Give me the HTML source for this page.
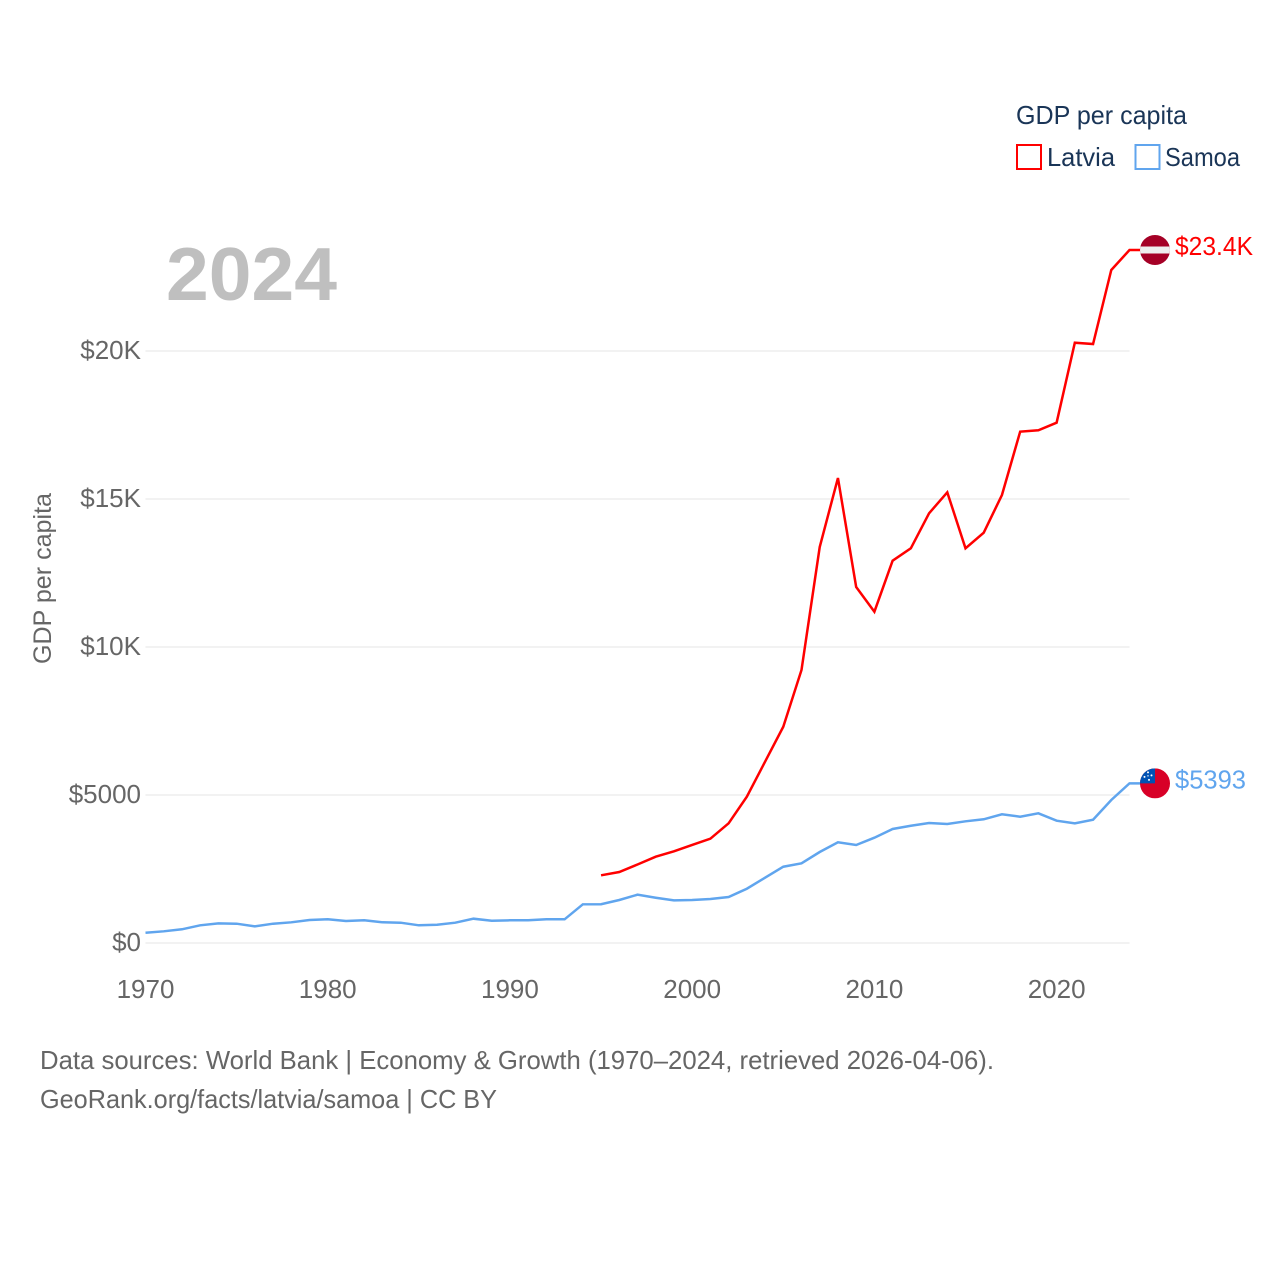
<!DOCTYPE html>
<html lang="en">
<head>
<meta charset="utf-8">
<title>GDP per capita: Latvia and Samoa</title>
<style>
html,body{margin:0;padding:0;background:#fff;}
svg{display:block;font-family:"Liberation Sans",sans-serif;}
</style>
</head>
<body>
<svg id="chart" xmlns="http://www.w3.org/2000/svg" width="1280" height="1280" viewBox="0 0 1280 1280">
  <rect width="1280" height="1280" fill="#fff"/>
  <g id="grid"></g>
  <g id="yticks"></g>
  <g id="xticks"></g>
  <text id="year" x="166" y="300" font-size="75" font-weight="700" fill="#bfbfbf" textLength="171" lengthAdjust="spacingAndGlyphs">2024</text>
  <text transform="translate(51 664) rotate(-90)" font-size="25" fill="#666" textLength="171" lengthAdjust="spacingAndGlyphs">GDP per capita</text>
  <g id="series"></g>

  <g>
    <text x="1016" y="124" font-size="26" fill="#1a3557" textLength="171" lengthAdjust="spacingAndGlyphs">GDP per capita</text>
    <rect x="1017" y="145" width="24" height="24" fill="none" stroke="#ff0000" stroke-width="2"/>
    <text x="1047" y="166" font-size="26" fill="#1a3557" textLength="68" lengthAdjust="spacingAndGlyphs">Latvia</text>
    <rect x="1135.5" y="145" width="24" height="24" fill="none" stroke="#60a5ee" stroke-width="2"/>
    <text x="1165" y="166" font-size="26" fill="#1a3557" textLength="75" lengthAdjust="spacingAndGlyphs">Samoa</text>
  </g>

  <defs>
    <clipPath id="clip-lv"><circle cx="0" cy="0" r="15"/></clipPath>
    <clipPath id="clip-ws"><circle cx="0" cy="0" r="15"/></clipPath>
  </defs>
  <g id="flag-latvia">
    <g clip-path="url(#clip-lv)">
      <rect x="-15" y="-15" width="30" height="30" fill="#a50026"/>
      <rect x="-15" y="-3.5" width="30" height="7" fill="#eeeeee"/>
    </g>
  </g>
  <g id="flag-samoa">
    <g clip-path="url(#clip-ws)">
      <rect x="-15" y="-15" width="30" height="30" fill="#d80027"/>
      <rect x="-15" y="-15" width="15" height="15" fill="#0052b4"/>
      <circle cx="-7" cy="-11" r="1" fill="#fff"/>
      <circle cx="-3.5" cy="-8" r="1" fill="#fff"/>
      <circle cx="-7" cy="-7.5" r="0.7" fill="#fff"/>
      <circle cx="-10.5" cy="-6.5" r="1" fill="#fff"/>
      <circle cx="-6" cy="-3.5" r="1" fill="#fff"/>
    </g>
  </g>
  <text id="label-latvia" x="1175" y="255" font-size="26" fill="#ff0000" textLength="78" lengthAdjust="spacingAndGlyphs">$23.4K</text>
  <text id="label-samoa" x="1175" y="788" font-size="26" fill="#60a5ee" textLength="71" lengthAdjust="spacingAndGlyphs">$5393</text>

  <text x="40" y="1069" font-size="26" fill="#666" textLength="954" lengthAdjust="spacingAndGlyphs">Data sources: World Bank | Economy &amp; Growth (1970–2024, retrieved 2026-04-06).</text>
  <text x="40" y="1108" font-size="26" fill="#666" textLength="457" lengthAdjust="spacingAndGlyphs">GeoRank.org/facts/latvia/samoa | CC BY</text>
</svg>
<script>
const startYear = 1970;
const endYear = 2024;
const yTickValues = [0, 5000, 10000, 15000, 20000];
const yTickLabels = ["$0", "$5000", "$10K", "$15K", "$20K"];
const xTickValues = [1970, 1980, 1990, 2000, 2010, 2020];
const xTickLabels = ["1970", "1980", "1990", "2000", "2010", "2020"];
const latviaStartYear = 1995;
const latviaValues = [2287, 2399, 2652, 2916, 3098, 3311, 3524, 4044, 4943, 6125, 7307, 9223, 13378, 15709, 12027, 11193, 12916, 13334, 14517, 15226, 13334, 13861, 15135, 17274, 17321, 17578, 20280, 20236, 22736, 23412];
const samoaStartYear = 1970;
const samoaValues = [348, 395, 463, 598, 665, 652, 564, 652, 699, 777, 801, 743, 767, 699, 686, 598, 618, 686, 821, 753, 767, 767, 801, 801, 1307, 1311, 1453, 1632, 1530, 1442, 1453, 1486, 1554, 1834, 2206, 2577, 2692, 3074, 3402, 3311, 3557, 3851, 3962, 4054, 4020, 4111, 4179, 4348, 4267, 4381, 4132, 4044, 4165, 4831, 5393];

const NS = "http://www.w3.org/2000/svg";
const plotLeft = 145.5, plotRight = 1129.5, zeroY = 943, pxPerDollar = 148 / 5000;
const flagX = 1155;

function xScale(year) {
  return plotLeft + (year - startYear) * (plotRight - plotLeft) / (endYear - startYear);
}
function yScale(value) {
  return zeroY - value * pxPerDollar;
}
function make(tag, parent) {
  const el = document.createElementNS(NS, tag);
  parent.appendChild(el);
  return el;
}

const gridGroup = document.getElementById("grid");
const yTickGroup = document.getElementById("yticks");
yTickValues.forEach(function (v, i) {
  const line = make("line", gridGroup);
  
  
  line.setAttribute("x1", plotLeft);
  line.setAttribute("x2", plotRight);
  line.setAttribute("y1", yScale(v));
  line.setAttribute("y2", yScale(v));
  line.setAttribute("stroke", "#eeeeee");
  line.setAttribute("stroke-width", "1.5");
  const t = make("text", yTickGroup);
  
  
  t.setAttribute("x", 141);
  t.setAttribute("y", yScale(v) + 8);
  t.setAttribute("text-anchor", "end");
  t.setAttribute("font-size", "26");
  t.setAttribute("fill", "#666");
  t.textContent = yTickLabels[i];
});

const xTickGroup = document.getElementById("xticks");
xTickValues.forEach(function (v, i) {
  const t = make("text", xTickGroup);
  
  
  t.setAttribute("x", xScale(v));
  t.setAttribute("y", 998);
  t.setAttribute("text-anchor", "middle");
  t.setAttribute("font-size", "26");
  t.setAttribute("fill", "#666");
  t.textContent = xTickLabels[i];
});

function pointsFor(firstYear, values) {
  const pts = values.map(function (v, i) {
    return xScale(firstYear + i).toFixed(2) + "," + yScale(v).toFixed(2);
  });
  return pts;
}

const seriesGroup = document.getElementById("series");

const latviaPts = pointsFor(latviaStartYear, latviaValues);
const latviaLastY = yScale(latviaValues[latviaValues.length - 1]);
latviaPts.push((flagX - 10) + "," + latviaLastY.toFixed(2));
const latviaLine = make("polyline", seriesGroup);


latviaLine.setAttribute("points", latviaPts.join(" "));
latviaLine.setAttribute("fill", "none");
latviaLine.setAttribute("stroke", "#ff0000");
latviaLine.setAttribute("stroke-width", "2.5");
latviaLine.setAttribute("stroke-linejoin", "miter");

const samoaPts = pointsFor(samoaStartYear, samoaValues);
const samoaLastY = yScale(samoaValues[samoaValues.length - 1]);
samoaPts.push((flagX - 10) + "," + samoaLastY.toFixed(2));
const samoaLine = make("polyline", seriesGroup);


samoaLine.setAttribute("points", samoaPts.join(" "));
samoaLine.setAttribute("fill", "none");
samoaLine.setAttribute("stroke", "#60a5ee");
samoaLine.setAttribute("stroke-width", "2.5");
samoaLine.setAttribute("stroke-linejoin", "miter");

document.getElementById("flag-latvia").setAttribute("transform", "translate(" + flagX + " " + latviaLastY + ")");
document.getElementById("flag-samoa").setAttribute("transform", "translate(" + flagX + " " + samoaLastY + ")");
document.getElementById("label-latvia").setAttribute("y", latviaLastY + 5);
document.getElementById("label-samoa").setAttribute("y", samoaLastY + 5);
</script>
</body>
</html>
